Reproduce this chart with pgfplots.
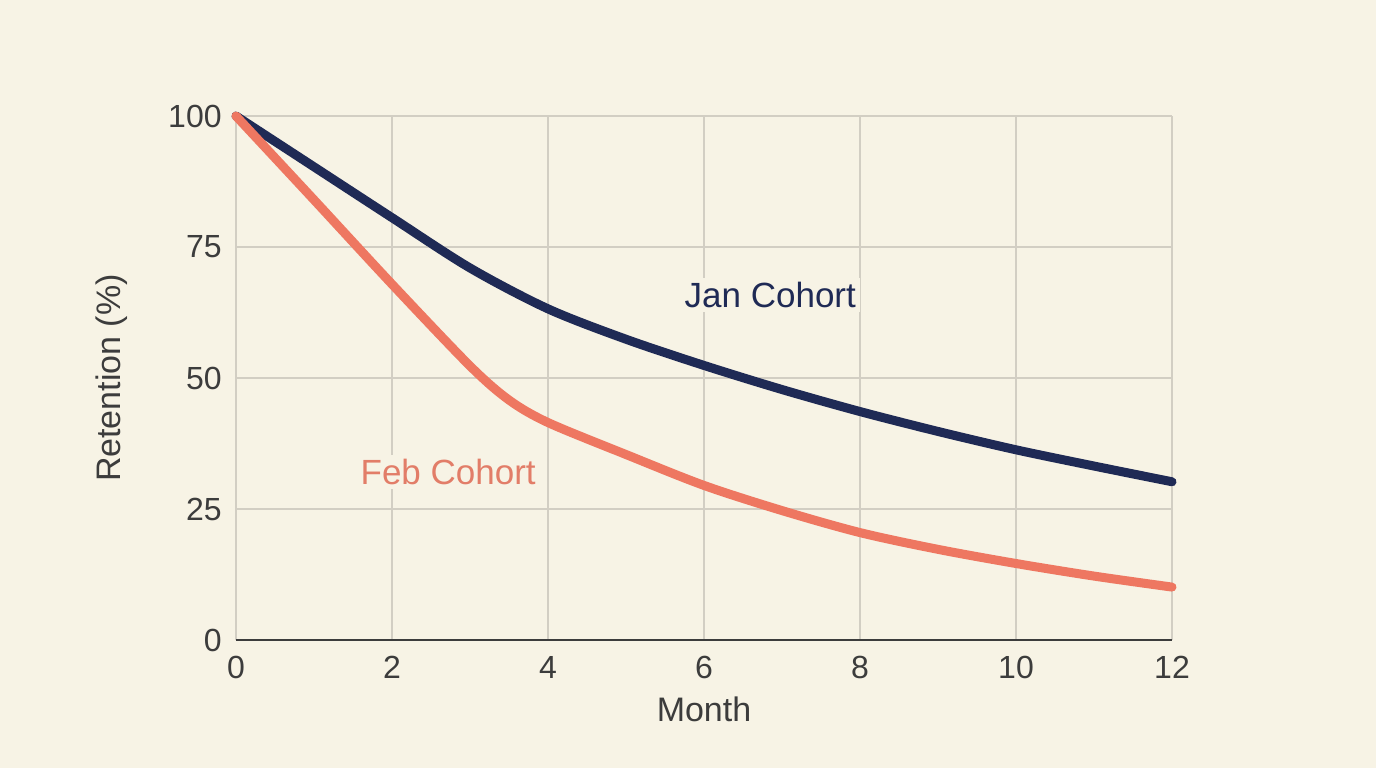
\documentclass[border=0pt]{standalone}
\usepackage{fontspec}
\setmainfont{Liberation Sans}
\usepackage{pgfplots}
\pgfplotsset{compat=1.18}

\definecolor{bgcream}{HTML}{F7F3E5}
\definecolor{gridgray}{HTML}{D2CEC3}
\definecolor{janblue}{HTML}{1F2A55}
\definecolor{febred}{HTML}{EE7761}
\definecolor{feblabel}{HTML}{E27D68}
\definecolor{txt}{HTML}{3C3C3C}

\begin{document}
\begin{tikzpicture}
\path[use as bounding box] (0,0) rectangle (688pt,384pt);
\fill[bgcream] (0,0) rectangle (688pt,384pt);
\begin{axis}[
  at={(118pt,64pt)}, anchor=south west,
  scale only axis, width=468pt, height=262pt,
  xmin=0, xmax=12, ymin=0, ymax=100,
  xtick={0,2,4,6,8,10,12},
  ytick={0,25,50,75,100},
  axis line style={draw=none},
  major tick length=0pt,
  grid=major,
  grid style={draw=gridgray, line width=0.9pt},
  /pgf/number format/assume math mode=true,
  ticklabel style={font=\fontsize{16}{18}\selectfont, text=txt, inner sep=0pt},
  xticklabel style={anchor=center, yshift=-13.5pt},
  yticklabel style={anchor=east, xshift=-7pt},
  xlabel={Month},
  ylabel={Retention (\%)},
  label style={font=\fontsize{17}{20}\selectfont, text=txt},
  xlabel style={at={(axis description cs:0.5,-0.1317)}, anchor=center},
  ylabel style={at={(axis description cs:-0.1325,0.5)}, anchor=center},
  clip=false,
]
% bottom axis line
\draw[txt, line width=0.8pt] (axis cs:0,0) -- (axis cs:12,0);

\addplot[janblue, line width=4.5pt, line cap=round, smooth, tension=0.5] coordinates {
(0,100) (1,90.3) (2,80.6) (3,71) (4,63.2) (5,57.4) (6,52.4) (7,47.8)
(8,43.6) (9,39.8) (10,36.3) (11,33.2) (12,30.2)
};

\addplot[febred, line width=4.5pt, line cap=round, smooth, tension=0.5] coordinates {
(0,100) (1,84) (2,67.9) (3,52.3) (3.5,45.8) (4,41.5) (5,35.4)
(6,29.5) (7,24.7) (8,20.5) (9,17.3) (10,14.6) (11,12.2) (12,10.1)
};

\node[fill=bgcream, inner sep=2pt, text=janblue, font=\fontsize{17.5}{20}\selectfont]
  at (axis cs:6.85,65.8) {Jan Cohort};
\node[fill=bgcream, inner sep=2pt, text=feblabel, font=\fontsize{17.5}{20}\selectfont]
  at (axis cs:2.72,32) {Feb Cohort};
\end{axis}
\end{tikzpicture}
\end{document}
